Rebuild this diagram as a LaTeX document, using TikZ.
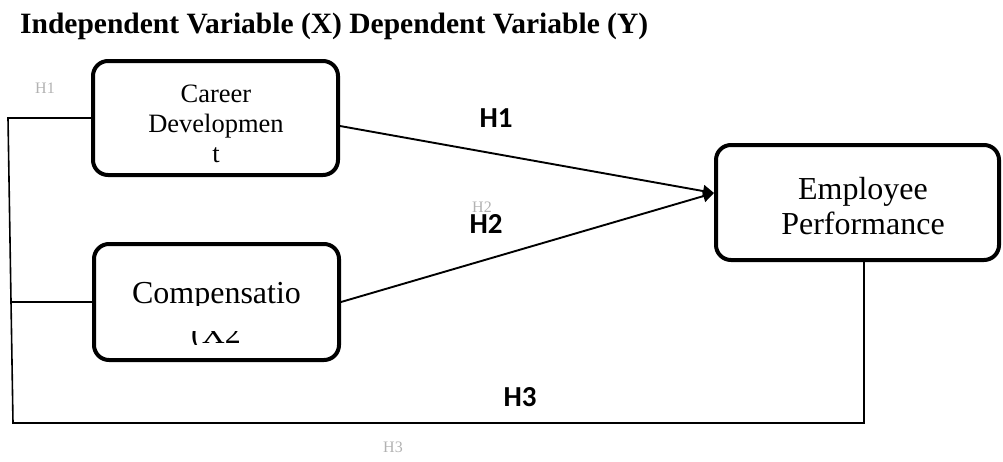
\documentclass[tikz,border=0pt]{standalone}
\usepackage{fontspec}
\setmainfont{Liberation Serif}
\newfontfamily\hfont{Carlito}
\usetikzlibrary{arrows.meta,calc}
\tikzset{
  varbox/.style={draw, line width=4pt, rounded corners=15pt, inner sep=0pt},
  link/.style={line width=1.6pt},
  path/.style={line width=1.9pt},
  hyp/.style={inner sep=0pt, font=\hfont\bfseries\fontsize{29}{29}\selectfont},
  ghost/.style={inner sep=0pt, anchor=base, text=black!30, font=\fontsize{16}{16}\selectfont},
}

\begin{document}
\begin{tikzpicture}[x=1pt,y=-1pt]
\useasboundingbox (0,0) rectangle (1003,461);
\node[anchor=base west, inner sep=0pt, font=\bfseries\fontsize{29.5}{30}\selectfont] (title) at (20,33) {Independent Variable (X) Dependent Variable (Y)};

% variable boxes
\node[varbox, minimum width=245pt, minimum height=114pt] (cd) at (215.5,118) {};
\node[varbox, minimum width=245pt, minimum height=116pt] (cp) at (216.5,302) {};
\node[varbox, minimum width=283pt, minimum height=115pt] (ep) at (857.5,202.5) {};

\node[align=center, inner sep=0pt, font=\fontsize{26.5}{30}\selectfont] (cdtext) at (216,124) {Career\\Developmen\\t};
\node[align=center, inner sep=0pt, font=\fontsize{32}{35}\selectfont] (eptext) at (863,206.5) {Employee\\Performance};
\begin{scope}
  \clip (95,270) rectangle (338,305.5);
  \node[anchor=base, inner sep=0pt, font=\fontsize{32}{35}\selectfont] (cptop) at (216.5,303) {Compensatio};
\end{scope}
\begin{scope}
  \clip (95,331) rectangle (338,344);
  \node[anchor=base, inner sep=0pt, font=\fontsize{32}{35}\selectfont] (cpbot) at (216,343) {(X2};
\end{scope}

% hypothesis paths
\coordinate (hit) at ($(ep.west)+(0,-9.5)$);
\draw[path,-{Triangle[length=11pt,width=12pt]}] ($(cd.east)+(0,8)$) -- (hit);
\draw[path,-{Triangle[length=11pt,width=12pt]}] (cp.east) -- (hit);

% outer loop on the left and bottom
\coordinate (tl) at (8,118);
\coordinate (bl) at (13,423);
\coordinate (br) at (864,423);
\draw[link] (cd.west) -- (tl) -- (bl) -- (br) -- (br |- ep.south);
\draw[link] (cp.west) -- (11.4,302);

\node[hyp] (h1) at (496,118) {H1};
\node[hyp] (h2) at (486,224) {H2};
\node[hyp] (h3) at (520,397) {H3};

\node[ghost] (g1) at (45,93) {H1};
\node[ghost] (g2) at (482,212) {H2};
\node[ghost] (g3) at (393,452) {H3};
\end{tikzpicture}
\end{document}
